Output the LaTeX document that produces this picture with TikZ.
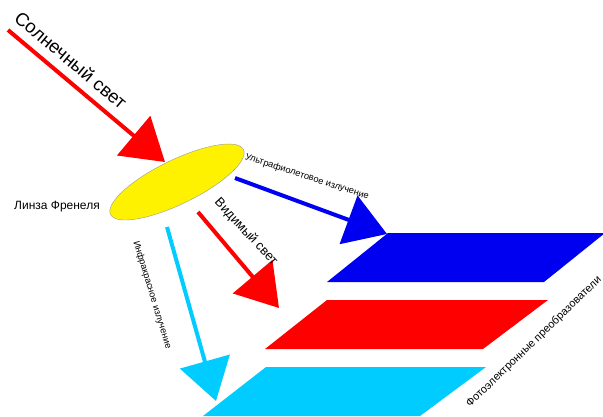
\documentclass[tikz,border=0pt]{standalone}
\usepackage{fontspec}
\setmainfont{Liberation Sans}
\usetikzlibrary{arrows.meta,shapes.geometric}
\definecolor{uvblue}{RGB}{0,0,240}
\definecolor{irblue}{RGB}{0,204,255}
\definecolor{sunred}{RGB}{255,0,0}
\begin{document}
\begin{tikzpicture}[
  x=1pt, y=-1pt,
  beam/.style={line width=4pt, -{Triangle[length=41pt,width=51pt]}},
  lens/.style={ellipse, draw=gray!80, fill=yellow, inner sep=0pt,
    minimum width=148pt, minimum height=44pt},
  big/.style={font=\fontsize{18.5}{21}\selectfont, inner sep=0pt},
  mid/.style={font=\fontsize{13}{15}\selectfont, inner sep=0pt},
  small/.style={font=\fontsize{9.3}{11}\selectfont, inner sep=0pt}
]
\useasboundingbox (0,0) rectangle (603,416);
\fill[uvblue] (388,233) -- (605,233) -- (544,282) -- (327,282) -- cycle;
\fill[sunred] (327,300) -- (548,300) -- (483,349) -- (265,349) -- cycle;
\fill[irblue] (266,367) -- (486,367) -- (420,416) -- (203,416) -- cycle;
\node[lens, rotate=26] (fresnel) at (177,182) {};
\coordinate (sunstart) at (8,30);
\coordinate (suntip) at (165,162);
\coordinate (uvstart) at (235,178);
\coordinate (uvtip) at (387,234);
\coordinate (visstart) at (198,212);
\coordinate (vistip) at (279,308);
\coordinate (irstart) at (167,227);
\coordinate (irtip) at (216,401);
\draw[beam, sunred] (sunstart) -- (suntip);
\draw[beam, uvblue] (uvstart) -- (uvtip);
\draw[beam, sunred] (visstart) -- (vistip);
\draw[beam, irblue] (irstart) -- (irtip);
\node[big, rotate=-40] (sunlabel) at (71,60) {Солнечный свет};
\node[font=\fontsize{12}{14}\selectfont, inner sep=0pt] (lenslabel) at (57,207) {Линза Френеля};
\node[small, rotate=-18] (uvlabel) at (307,177) {Ультрафиолетовое излучение};
\node[mid, rotate=-47] (vislabel) at (246,232) {Видимый свет};
\node[small, rotate=-73] (irlabel) at (152,295) {Инфракрасное излучение};
\node[font=\fontsize{11}{13}\selectfont, inner sep=0pt, rotate=44] (celllabel) at (534,342) {Фотоэлектронные преобразователи};
\end{tikzpicture}
\end{document}
